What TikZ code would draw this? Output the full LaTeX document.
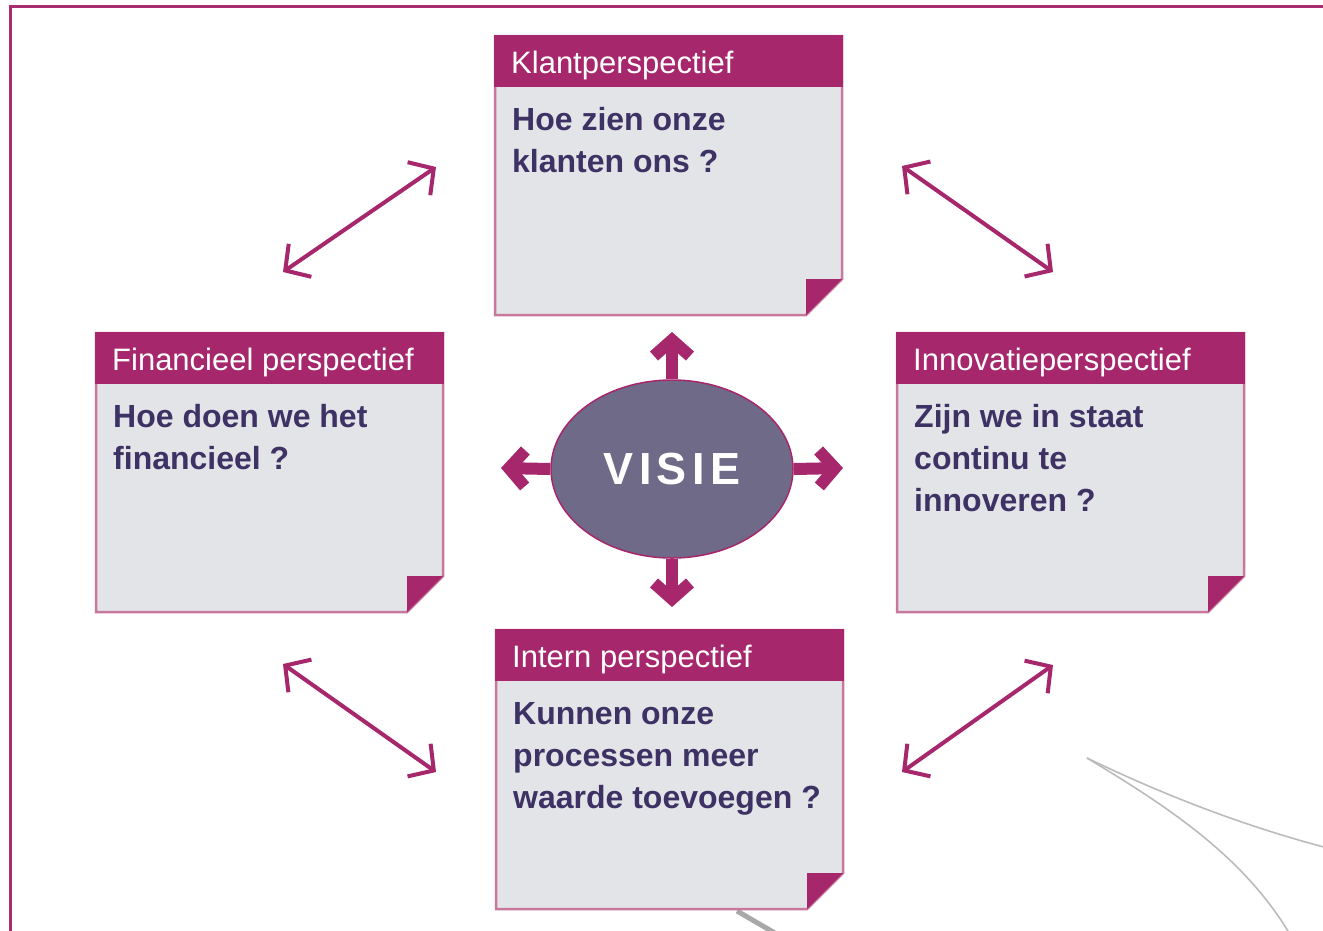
\documentclass[tikz,border=0pt]{standalone}
\usepackage{fontspec}
\setmainfont{Liberation Sans}
\newfontfamily\visfont[LetterSpace=12]{Liberation Sans}
\usetikzlibrary{arrows.meta,shapes.geometric}
\definecolor{headmag}{HTML}{A6276C}
\definecolor{boxgray}{HTML}{E3E4E8}
\definecolor{boxedge}{HTML}{C8789C}
\definecolor{bodytxt}{HTML}{3E3264}
\definecolor{visfill}{HTML}{6E6A87}
\definecolor{framecol}{HTML}{A82D70}
\definecolor{curvegray}{HTML}{BBBBBB}
\newcommand\pbox[5]{%
  \begin{scope}[shift={(#2,#3)}]
    \path[fill=boxgray, draw=boxedge, line width=2.5pt]
      (0,0) -- (347,0) -- (347,243) -- (311,279) -- (0,279) -- cycle;
    \fill[headmag] (-1.25,-1.25) rectangle (348.25,51);
    \fill[headmag] (311,243) -- (347,243) -- (311,279) -- cycle;
    \node[titletext] (#1-title) at (16,37) {#4};
    \node[bodytext] (#1-body) at (17,94) {\vtop{#5}};
  \end{scope}}
\tikzset{
  titletext/.style={anchor=base west, inner sep=0pt, text=white,
    font=\fontsize{31}{36}\selectfont},
  bodytext/.style={anchor=base west, inner sep=0pt, text=bodytxt,
    font=\fontsize{32}{42}\selectfont\bfseries},
  thinarrow/.style={draw=headmag, line width=4pt,
    {Straight Barb[length=18pt,width=40pt]}-{Straight Barb[length=18pt,width=40pt]}},
  bigarrow/.style={draw=headmag, line width=12pt,
    -{Straight Barb[length=16pt,width=36pt]}},
  vis/.style={ellipse, minimum width=242pt, minimum height=178pt,
    fill=visfill, draw=headmag, line width=1.5pt, text=white,
    font=\visfont\fontsize{45}{50}\selectfont\bfseries},
  curve/.style={draw=curvegray, line width=1.6pt}
}
\begin{document}
\begin{tikzpicture}[x=1pt,y=-1pt]
\useasboundingbox (0,0) rectangle (1323,930);
\clip (0,0) rectangle (1323,930);
\fill[white] (0,0) rectangle (1323,930);
% frame
\draw[framecol, line width=3pt] (10.5,945) -- (10.5,6.5) -- (1340,6.5);
% gray decorative curves
\coordinate (c0) at (1087,758);
\coordinate (c1) at (1335,850);
\coordinate (c2) at (1296,945);
\draw[curve] (c0) .. controls (1170,798) and (1250,828) .. (c1);
\draw[curve] (c0) .. controls (1170,808) and (1250,860) .. (c2);
\coordinate (g0) at (737,911);
\coordinate (g1) at (780,936);
\draw[draw=curvegray!90!black, line width=5pt] (g0) -- (g1);
% boxes
\pbox{klant}{495}{36}{Klantperspectief}{\hbox{Hoe zien onze}\hbox{klanten ons ?}}
\pbox{fin}{96}{333}{Financieel perspectief}{\hbox{Hoe doen we het}\hbox{financieel ?}}
\pbox{inno}{897}{333}{Innovatieperspectief}{\hbox{Zijn we in staat}\hbox{continu te}\hbox{innoveren ?}}
\pbox{intern}{496}{630}{Intern perspectief}{\hbox{Kunnen onze}\hbox{processen meer}\hbox{waarde toevoegen ?}}
% diagonal arrows
\coordinate (tl1) at (283,272); \coordinate (tl2) at (436,167);
\coordinate (tr1) at (902,166); \coordinate (tr2) at (1053,272);
\coordinate (bl1) at (283,664); \coordinate (bl2) at (436,772);
\coordinate (br1) at (1053,665); \coordinate (br2) at (902,772);
\draw[thinarrow] (tl1) -- (tl2);
\draw[thinarrow] (tr1) -- (tr2);
\draw[thinarrow] (bl1) -- (bl2);
\draw[thinarrow] (br1) -- (br2);
% vision
\node[vis] (vis) at (672,469) {VISIE};
\coordinate (vu) at (672,332);
\coordinate (vd) at (672,607);
\coordinate (vl) at (501,468);
\coordinate (vr) at (843,468);
\draw[bigarrow] (vis.north) -- (vu);
\draw[bigarrow] (vis.south) -- (vd);
\draw[bigarrow] (vis.west) -- (vl);
\draw[bigarrow] (vis.east) -- (vr);
\end{tikzpicture}
\end{document}
